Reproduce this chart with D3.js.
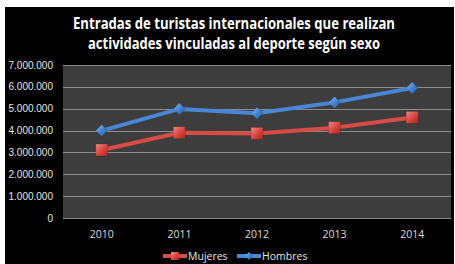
<!doctype html>
<html>
<head>
<meta charset='utf-8' />
<script src="https://cdn.jsdelivr.net/npm/d3@7"></script>
<style>
  body { margin: 0; background: #fff; }
  svg { display: block; }
</style>
</head>
<body>
<div id="chart"></div>
<script>
// data
var years = ["2010", "2011", "2012", "2013", "2014"];
var mujeres = [3110000, 3900000, 3870000, 4130000, 4600000];
var hombres = [4000000, 4990000, 4790000, 5290000, 5950000];
var yTicks = [0, 1000000, 2000000, 3000000, 4000000, 5000000, 6000000, 7000000];
var seriesNames = ["Mujeres", "Hombres"];

var W = 455, H = 264;
var svg = d3.select("#chart").append("svg").attr("width", W).attr("height", H);

var defs = svg.append("defs");
var gr = defs.append("linearGradient").attr("id", "redG").attr("x1", 0).attr("y1", 0).attr("x2", 1).attr("y2", 1);
gr.append("stop").attr("offset", "0%").attr("stop-color", "#f08a86");
gr.append("stop").attr("offset", "55%").attr("stop-color", "#d9413c");
gr.append("stop").attr("offset", "100%").attr("stop-color", "#a82824");
var gb = defs.append("linearGradient").attr("id", "blueG").attr("x1", 0).attr("y1", 0).attr("x2", 1).attr("y2", 1);
gb.append("stop").attr("offset", "0%").attr("stop-color", "#8cb8f0");
gb.append("stop").attr("offset", "55%").attr("stop-color", "#3f7fd0");
gb.append("stop").attr("offset", "100%").attr("stop-color", "#2a5ea8");

// black frame
svg.append("rect").attr("x", 5).attr("y", 7).attr("width", 449).attr("height", H - 7).attr("fill", "#000");

var m = {left: 63, right: 451, top: 65, bottom: 218};

var x = d3.scaleBand().domain(years).range([m.left, m.right]);
var y = d3.scaleLinear().domain([0, 7000000]).range([m.bottom, m.top]);

svg.append("rect").attr("x", m.left).attr("y", m.top)
  .attr("width", m.right - m.left).attr("height", m.bottom - m.top)
  .attr("fill", "#3d3d3d");

// gridlines
svg.append("g").selectAll("line").data(yTicks).join("line")
  .attr("x1", m.left).attr("x2", m.right)
  .attr("y1", function(d) { return Math.round(y(d)) + 0.5; })
  .attr("y2", function(d) { return Math.round(y(d)) + 0.5; })
  .attr("stroke", "#8c8c8c").attr("stroke-width", 1);

var fmt = function(d) { return d === 0 ? "0" : d3.format(",")(d).replace(/,/g, "."); };

svg.append("g").selectAll("text").data(yTicks).join("text")
  .attr("x", 53).attr("y", function(d) { return y(d); })
  .attr("dy", "0.35em").attr("text-anchor", "end")
  .attr("font-family", "Liberation Sans, Arial, sans-serif").attr("font-size", 10)
  .attr("fill", "#e6e6e6")
  .text(fmt);

svg.append("g").selectAll("text").data(years).join("text")
  .attr("x", function(d) { return x(d) + x.bandwidth() / 2; })
  .attr("y", 237.5).attr("text-anchor", "middle")
  .attr("font-family", "Open Sans, sans-serif").attr("font-size", 10.5)
  .attr("fill", "#dcdcdc")
  .text(function(d) { return d; });

// title
var title = ["Entradas de turistas internacionales que realizan", "actividades vinculadas al deporte según sexo"];
var titleW = [322, 292];
svg.append("g").selectAll("text").data(title).join("text")
  .attr("x", 234).attr("y", function(d, i) { return 29 + i * 20; })
  .attr("text-anchor", "middle")
  .attr("font-family", "Open Sans, sans-serif").attr("font-weight", "bold").attr("font-size", 15.5)
  .attr("textLength", function(d, i) { return titleW[i]; }).attr("lengthAdjust", "spacingAndGlyphs")
  .attr("fill", "#fff")
  .text(function(d) { return d; });

var line = d3.line()
  .x(function(d, i) { return x(years[i]) + x.bandwidth() / 2; })
  .y(function(d) { return y(d); });

function drawSeries(vals, color, shape, fill) {
  svg.append("path").datum(vals).attr("d", line)
    .attr("fill", "none").attr("stroke", color).attr("stroke-width", 4);
  svg.append("g").selectAll("path").data(vals).join("path")
    .attr("transform", function(d, i) {
      return "translate(" + (x(years[i]) + x.bandwidth() / 2) + "," + y(d) + ")";
    })
    .attr("d", shape)
    .attr("fill", fill).attr("stroke", "rgba(0,0,0,0.25)").attr("stroke-width", 0.6);
}

var square = "M-6,-6H6V6H-6Z";
var diamond = "M0,-6L6,0L0,6L-6,0Z";
drawSeries(mujeres, "#d84c47", square, "url(#redG)");
drawSeries(hombres, "#4a86d6", diamond, "url(#blueG)");

// legend
var leg = svg.append("g");
var legX = [163, 237];
var legColor = ["#d84c47", "#4a86d6"];
var legShape = ["M-4,-4H4V4H-4Z", "M0,-4L4,0L0,4L-4,0Z"];
var legFill = ["url(#redG)", "url(#blueG)"];
seriesNames.forEach(function(n, i) {
  leg.append("line").attr("x1", legX[i]).attr("x2", legX[i] + 24)
    .attr("y1", 256).attr("y2", 256)
    .attr("stroke", legColor[i]).attr("stroke-width", 4);
  leg.append("path").attr("transform", "translate(" + (legX[i] + 12) + ",256)")
    .attr("d", legShape[i]).attr("fill", legFill[i]);
  leg.append("text").attr("x", legX[i] + 25).attr("y", 259.5)
    .attr("font-family", "Open Sans, sans-serif").attr("font-size", 10.5)
    .attr("fill", "#e6e6e6").text(n);
});
</script>
</body>
</html>
